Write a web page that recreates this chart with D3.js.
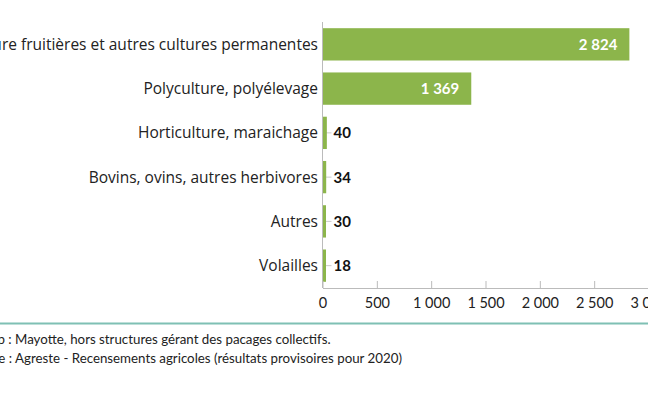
<!DOCTYPE html>
<html><head><meta charset="utf-8">
<script src="https://cdn.jsdelivr.net/npm/d3@7"></script>
<style>
html,body{margin:0;padding:0;background:#fff;overflow:hidden}
svg{display:block;font-family:Lato,"Open Sans",sans-serif}
</style></head>
<body>
<svg id="c" width="648" height="393"></svg>
<script>
const categories = ["Arboriculture fruitières et autres cultures permanentes","Polyculture, polyélevage","Horticulture, maraichage","Bovins, ovins, autres herbivores","Autres","Volailles"];
const values = [2824, 1369, 40, 34, 30, 18];
const xTicks = [0, 500, 1000, 1500, 2000, 2500, 3000];
const notes = ["Champ : Mayotte, hors structures gérant des pacages collectifs.","Source : Agreste - Recensements agricoles (résultats provisoires pour 2020)"];

const svg = d3.select("#c");
const fmt = v => d3.format(",")(v).replace(/,/g, "\u202f");
const x = d3.scaleLinear().domain([0, 3000]).range([322.5, 648.5]);
const y = d3.scaleBand().domain(categories).range([22, 288]).paddingInner(0.27).paddingOuter(0.14);

// category ticks (small, to the right of axis)
svg.append("g").selectAll("line").data(categories).join("line")
  .attr("x1", x(0)).attr("x2", x(0) + 9)
  .attr("y1", d => y(d) + y.bandwidth()/2).attr("y2", d => y(d) + y.bandwidth()/2)
  .attr("stroke", "#ccc").attr("stroke-width", 1);

// bars
svg.append("g").selectAll("rect").data(values).join("rect")
  .attr("x", x(0)).attr("y", (d,i) => y(categories[i]))
  .attr("width", d => Math.max(x(d) - x(0), 3.5))
  .attr("height", y.bandwidth())
  .attr("fill", "#8cb54b");

// y axis line
svg.append("line").attr("x1", x(0)).attr("x2", x(0)).attr("y1", 22).attr("y2", 288)
  .attr("stroke", "#bbb").attr("stroke-width", 1);

// category labels
svg.append("g").selectAll("text").data(categories).join("text")
  .attr("x", 318).attr("y", d => y(d) + y.bandwidth()/2)
  .attr("dy", "0.36em").attr("text-anchor", "end")
  .attr("font-family", "'Open Sans',sans-serif")
  .attr("font-size", 15.5).attr("fill", "#222").text(d => d);

// value labels
svg.append("g").selectAll("text").data(values).join("text")
  .attr("x", d => d > 500 ? x(d) - 12 : x(0) + 11)
  .attr("y", (d,i) => y(categories[i]) + y.bandwidth()/2)
  .attr("dy", "0.36em")
  .attr("text-anchor", d => d > 500 ? "end" : "start")
  .attr("font-size", 15).attr("font-weight", "bold")
  .attr("fill", d => d > 500 ? "#fff" : "#111").text(d => fmt(d));

// x axis
const xAxis = d3.axisBottom(x).tickValues(xTicks).tickSize(0).tickPadding(0)
  .tickFormat(d => fmt(d));
const gx = svg.append("g").attr("transform", "translate(0,288)").call(xAxis);
gx.select(".domain").attr("stroke", "#bbb");
gx.selectAll(".tick line").attr("y1", -7).attr("y2", 0).attr("stroke", "#bbb");
gx.selectAll(".tick text").attr("y", 10).attr("dy", "0.71em")
  .attr("font-size", 14.5).attr("fill", "#222").attr("font-family", "Lato,'Open Sans',sans-serif");

// footer line
svg.append("line").attr("x1", 0).attr("x2", 648).attr("y1", 323.5).attr("y2", 323.5)
  .attr("stroke", "#7fc0b4").attr("stroke-width", 2);

// notes (clipped at left as in original)
const nt = svg.append("g").selectAll("text").data(notes).join("text")
  .attr("y", (d,i) => 339 + i*19).attr("dy", "0.35em")
  .attr("font-size", 13.3).attr("fill", "#222").text(d => d);
nt.each(function(d){
  const idx = d.indexOf(":") + 2;
  const w = this.getSubStringLength(0, idx);
  d3.select(this).attr("x", 15 - w);
});
</script>
</body></html>
